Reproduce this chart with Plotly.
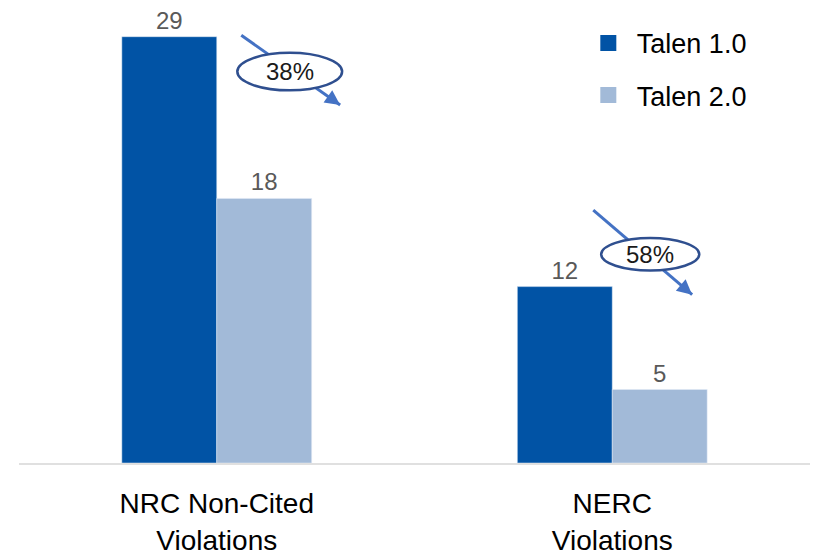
import plotly.graph_objects as go

categories = ["NRC Non-Cited<br>Violations", "NERC<br>Violations"]
series_names = ["Talen 1.0", "Talen 2.0"]
talen1 = [29, 12]
talen2 = [18, 5]
reductions = ["38%", "58%"]

colors = ["#0153A5", "#A2BAD8"]
FONT = "Arial, Liberation Sans, sans-serif"

fig = go.Figure()
for name, vals, col in zip(series_names, [talen1, talen2], colors):
    fig.add_trace(go.Bar(
        x=categories, y=vals, name=name, marker_color=col,
        text=[str(v) for v in vals], textposition="outside",
        textfont=dict(family=FONT, size=24, color="#595959"),
        cliponaxis=False, legendgroup=name, showlegend=False,
    ))
# legend entries with larger square swatches, linked to the bars
for name, col in zip(series_names, colors):
    fig.add_trace(go.Scatter(
        x=[None], y=[None], mode="markers", name=name, legendgroup=name,
        marker=dict(symbol="square", size=16, color=col), showlegend=True,
    ))

# decorations: arrow + ellipse per category (in category/value units)
arrow_specs = [
    # (start_x, start_y, end_x, end_y, ell_x0, ell_x1, ell_y0, ell_y1)
    (0.062, 29.1, 0.312, 24.35, 0.052, 0.317, 25.35, 27.9),
    (0.952, 17.2, 1.202, 11.45, 0.972, 1.220, 13.1, 15.3),
]
for (sx, sy, ex, ey, x0, x1, y0, y1), txt in zip(arrow_specs, reductions):
    fig.add_shape(type="line", xref="x", yref="y", x0=sx, y0=sy, x1=ex, y1=ey,
                  line=dict(color="#4472C4", width=3), layer="above")
    fig.add_shape(type="circle", xref="x", yref="y", x0=x0, x1=x1, y0=y0, y1=y1,
                  line=dict(color="#2F4F8F", width=2.5), fillcolor="white", layer="above")
    fig.add_annotation(x=(x0 + x1) / 2, y=(y0 + y1) / 2, xref="x", yref="y",
                       text=txt, showarrow=False,
                       font=dict(family=FONT, size=24, color="#1a1a1a"))
    t = 0.9
    fig.add_annotation(x=ex, y=ey, xref="x", yref="y",
                       ax=sx + (ex - sx) * t, ay=sy + (ey - sy) * t,
                       axref="x", ayref="y", text="", showarrow=True,
                       arrowhead=2, arrowsize=1, arrowwidth=3, arrowcolor="#4472C4")

fig.update_layout(
    width=814, height=556,
    margin=dict(l=19, r=4, t=22, b=93),
    paper_bgcolor="white", plot_bgcolor="white",
    barmode="group", bargap=0.52, bargroupgap=0,
    font=dict(family=FONT, color="#000000"),
    showlegend=True,
    legend=dict(x=0.709, y=1.007, xanchor="left", yanchor="top",
                font=dict(family=FONT, size=27, color="#000000"),
                itemwidth=47,
                bgcolor="rgba(0,0,0,0)", tracegroupgap=14),
    xaxis=dict(showline=True, linecolor="#E0E0E0", linewidth=1.5,
               showgrid=False, ticks="", ticklabelstandoff=15, automargin=False,
               tickfont=dict(family=FONT, size=28, color="#000000"),
               fixedrange=True),
    yaxis=dict(range=[0, 30], visible=False, showgrid=False, zeroline=False,
               automargin=False),
)

fig.write_html("out.html")
